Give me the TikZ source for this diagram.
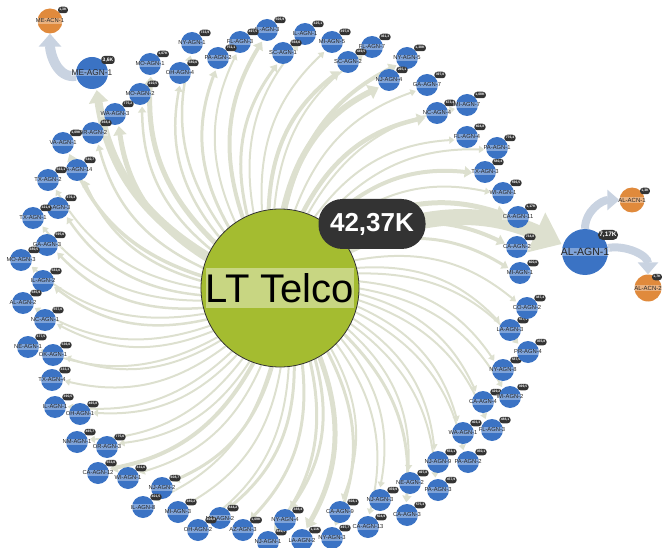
\documentclass[tikz,border=0pt]{standalone}
\usepackage{fontspec}
\setmainfont{Liberation Sans}
\usetikzlibrary{arrows.meta,backgrounds}
\definecolor{tgreen}{HTML}{A4BC30}
\definecolor{tblue}{HTML}{3B73C4}
\definecolor{torange}{HTML}{E08A3C}
\definecolor{tedge}{HTML}{DDE0CF}
\definecolor{tarc}{HTML}{C9D3E1}
\definecolor{tbadge}{HTML}{333333}
\def\nodelist{150/64/MO-AGN-1/{1,07K}/5, 180/73/OH-AGN-4/{580,6}/2.5, 192/43/NY-AGN-1/{733,9}/2.5, 140/94/MO-AGN-2/{210,5}/2.5, 115/114/WA-AGN-3/{775,2}/5, 93/133/OR-AGN-2/{368,4}/2.5, 63/143/VA-AGN-1/{1,09K}/3.5, 77/170/CA-AGN-14/{540,7}/2.5, 48/180/TX-AGN-2/{563,1}/2, 58/208/IL-AGN-3/{376,3}/2.5, 33/218/TX-AGN-1/{321,9}/2, 47/245/GA-AGN-3/{595,6}/2.5, 21/260/MO-AGN-3/{380,5}/2, 43/281/IL-AGN-2/{583,6}/2.5, 23/303/AL-AGN-2/{585,9}/2, 45/320/NC-AGN-1/{557,0}/2, 28/347/NE-AGN-1/{377,5}/2, 53/355/OK-AGN-1/{536,0}/2, 52/380/TX-AGN-4/{333,3}/2, 55/407/IL-AGN-1/{390,5}/2, 80/414/OH-AGN-1/{465,8}/2, 77/442/NM-AGN-1/{465,7}/2, 107/447/OR-AGN-3/{775,6}/2, 98/473/CA-AGN-12/{553,0}/4, 128/478/WI-AGN-1/{331,6}/2, 162/488/NJ-AGN-2/{608,7}/3, 143/507/IL-AGN-8/{401,5}/2, 178/512/MI-AGN-3/{380,2}/2, 220/518/MA-AGN-2/{844,2}/3, 198/530/OH-AGN-2/{408,8}/2, 243/530/AZ-AGN-3/{1,09K}/3, 268/542/NJ-AGN-1/{889,9}/3, 285/520/NY-AGN-4/{388,4}/3, 302/540/LA-AGN-2/{1,11K}/5, 340/512/CA-AGN-9/{508,1}/2, 332/538/NY-AGN-3/{497,7}/3, 368/527/CA-AGN-13/{504,9}/2, 380/500/NJ-AGN-3/{359,9}/2, 407/515/CA-AGN-3/{575,3}/3, 410/483/NE-AGN-2/{497,8}/2, 438/490/PA-AGN-3/{457,9}/2, 438/462/NJ-AGN-9/{553,1}/2, 468/462/PA-AGN-2/{350,1}/2, 463/433/WA-AGN-1/{403,3}/2, 492/430/FL-AGN-3/{488,1}/2, 483/402/CA-AGN-4/{329,2}/2, 510/397/WI-AGN-2/{399,5}/2, 503/370/NY-AGN-8/{587,9}/2, 528/352/PR-AGN-4/{355,8}/2, 510/330/LA-AGN-3/{557,1}/2, 527/308/CO-AGN-2/{387,4}/2, 520/273/MI-AGN-1/{600,0}/3, 517/247/CA-AGN-2/{734,8}/4, 518/217/CA-AGN-11/{1,17K}/5, 503/193/WI-AGN-1/{596,5}/2, 485/172/TX-AGN-3/{580,4}/4, 497/148/PA-AGN-1/{776,4}/2, 467/137/FL-AGN-4/{604,8}/2, 437/113/NC-AGN-4/{673,4}/4.5, 467/105/MI-AGN-7/{1,08K}/2, 427/85/GA-AGN-7/{397,0}/2, 407/58/NY-AGN-5/{1,38K}/4, 389/80/NJ-AGN-4/{265,1}/6, 372/47/FL-AGN-7/{361,3}/2, 348/62/SC-AGN-2/{449,5}/4, 332/42/MI-AGN-5/{397,0}/2, 305/34/IL-AGN-1/{325,1}/2, 283/53/SC-AGN-1/{568,6}/3, 267/30/IL-AGN-3/{506,9}/4, 240/42/FL-AGN-3/{497,5}/2, 218/58/PA-AGN-2/{751,1}/3}
\begin{document}
\begin{tikzpicture}[x=1pt,y=1pt,
 agn/.style={circle,fill=tblue,minimum size=22pt,inner sep=0pt},
 acn/.style={circle,fill=torange,minimum size=25pt,inner sep=0pt},
 lab/.style={fill=white,fill opacity=0.35,text opacity=1,text=black!85,inner sep=0.5pt,font=\fontsize{5.8}{5.8}\selectfont},
 badge/.style={fill=tbadge,rounded corners=3pt,text=white,inner xsep=1.4pt,inner ysep=1.1pt,minimum height=6.5pt,font=\fontsize{3.4}{3.4}\selectfont\bfseries},
 edge/.style={draw=tedge,-{Triangle[length=3pt 1.2,width=3pt 2]},bend left=25,shorten >=1.5pt},
 arc/.style={draw=tarc,line width=8pt,-{Triangle[length=12pt,width=20pt]}},
 ]
\useasboundingbox (0,0) rectangle (664,-548);
% centre
\node[circle,fill=tgreen,draw=black!80,line width=0.8pt,minimum size=158pt] (lt) at (280,-288) {};
\node[fill=white,fill opacity=0.4,text opacity=1,minimum height=40pt,inner xsep=0pt,font=\fontsize{40}{40}\selectfont] (ltl) at (280,-288) {LT Telco};
% ring of agents
\foreach \x/\y/\t/\b/\w [count=\i] in \nodelist {
  \node[agn] (b\i) at (\x,-\y) {};
  \node[lab] (l\i) at (b\i) {\t};
  \node[badge] (g\i) at ([shift={(13,10)}]b\i.center) {\b};
}
% ME branch
\node[agn,minimum size=32pt] (me) at (92,-73) {};
\node[lab,font=\fontsize{8.3}{8.3}\selectfont] (mel) at (me) {ME-AGN-1};
\node[badge,font=\fontsize{5}{5}\selectfont\bfseries,minimum height=8pt] (meg) at (108,-60) {3,6K};
\node[acn] (mec) at (50,-21) {};
\node[lab] (mecl) at (mec) {ME-ACN-1};
\node[badge] (mecg) at (63,-10) {1,3K};
% AL branch
\node[agn,minimum size=46pt] (al) at (585,-252) {};
\node[lab,font=\fontsize{10.5}{10.5}\selectfont] (all) at (al) {AL-AGN-1};
\node[acn] (alc1) at (632,-200) {};
\node[lab,font=\fontsize{6}{6}\selectfont] (alc1l) at (alc1) {AL-ACN-1};
\node[badge] (alc1g) at (645,-191) {1,3K};
\node[acn,minimum size=27pt] (alc2) at (648,-288) {};
\node[lab,font=\fontsize{6}{6}\selectfont] (alc2l) at (alc2) {AL-ACN-2};
\node[badge] (alc2g) at (657,-277) {1,7K};
\node[badge,font=\fontsize{6.5}{6.5}\selectfont\bfseries,minimum height=10pt,rounded corners=5pt] (alg) at (608,-235) {7,17K};
% big badge
\node[fill=tbadge,rounded corners=24pt,minimum width=107pt,minimum height=50pt,text=white,font=\fontsize{26}{26}\selectfont\bfseries] (bg) at (372,-224) {42,37K};
% connectors
\begin{scope}[on background layer]
\foreach \x/\y/\t/\b/\w [count=\i] in \nodelist {
  \draw[edge,line width=\w pt] (lt) to (b\i);
}
\draw[edge,line width=8pt] (lt) to (me);
\draw[edge,line width=16pt,-{Triangle[length=28pt,width=42pt]}] (lt) to (al);
\draw[arc] (al) to[out=90,in=180] (alc1);
\draw[arc] (al) to[out=10,in=90] (alc2);
\draw[arc,line width=10pt,-{Triangle[length=13pt,width=22pt]}] (me) to[out=190,in=-90] (mec);
\end{scope}
\end{tikzpicture}
\end{document}
